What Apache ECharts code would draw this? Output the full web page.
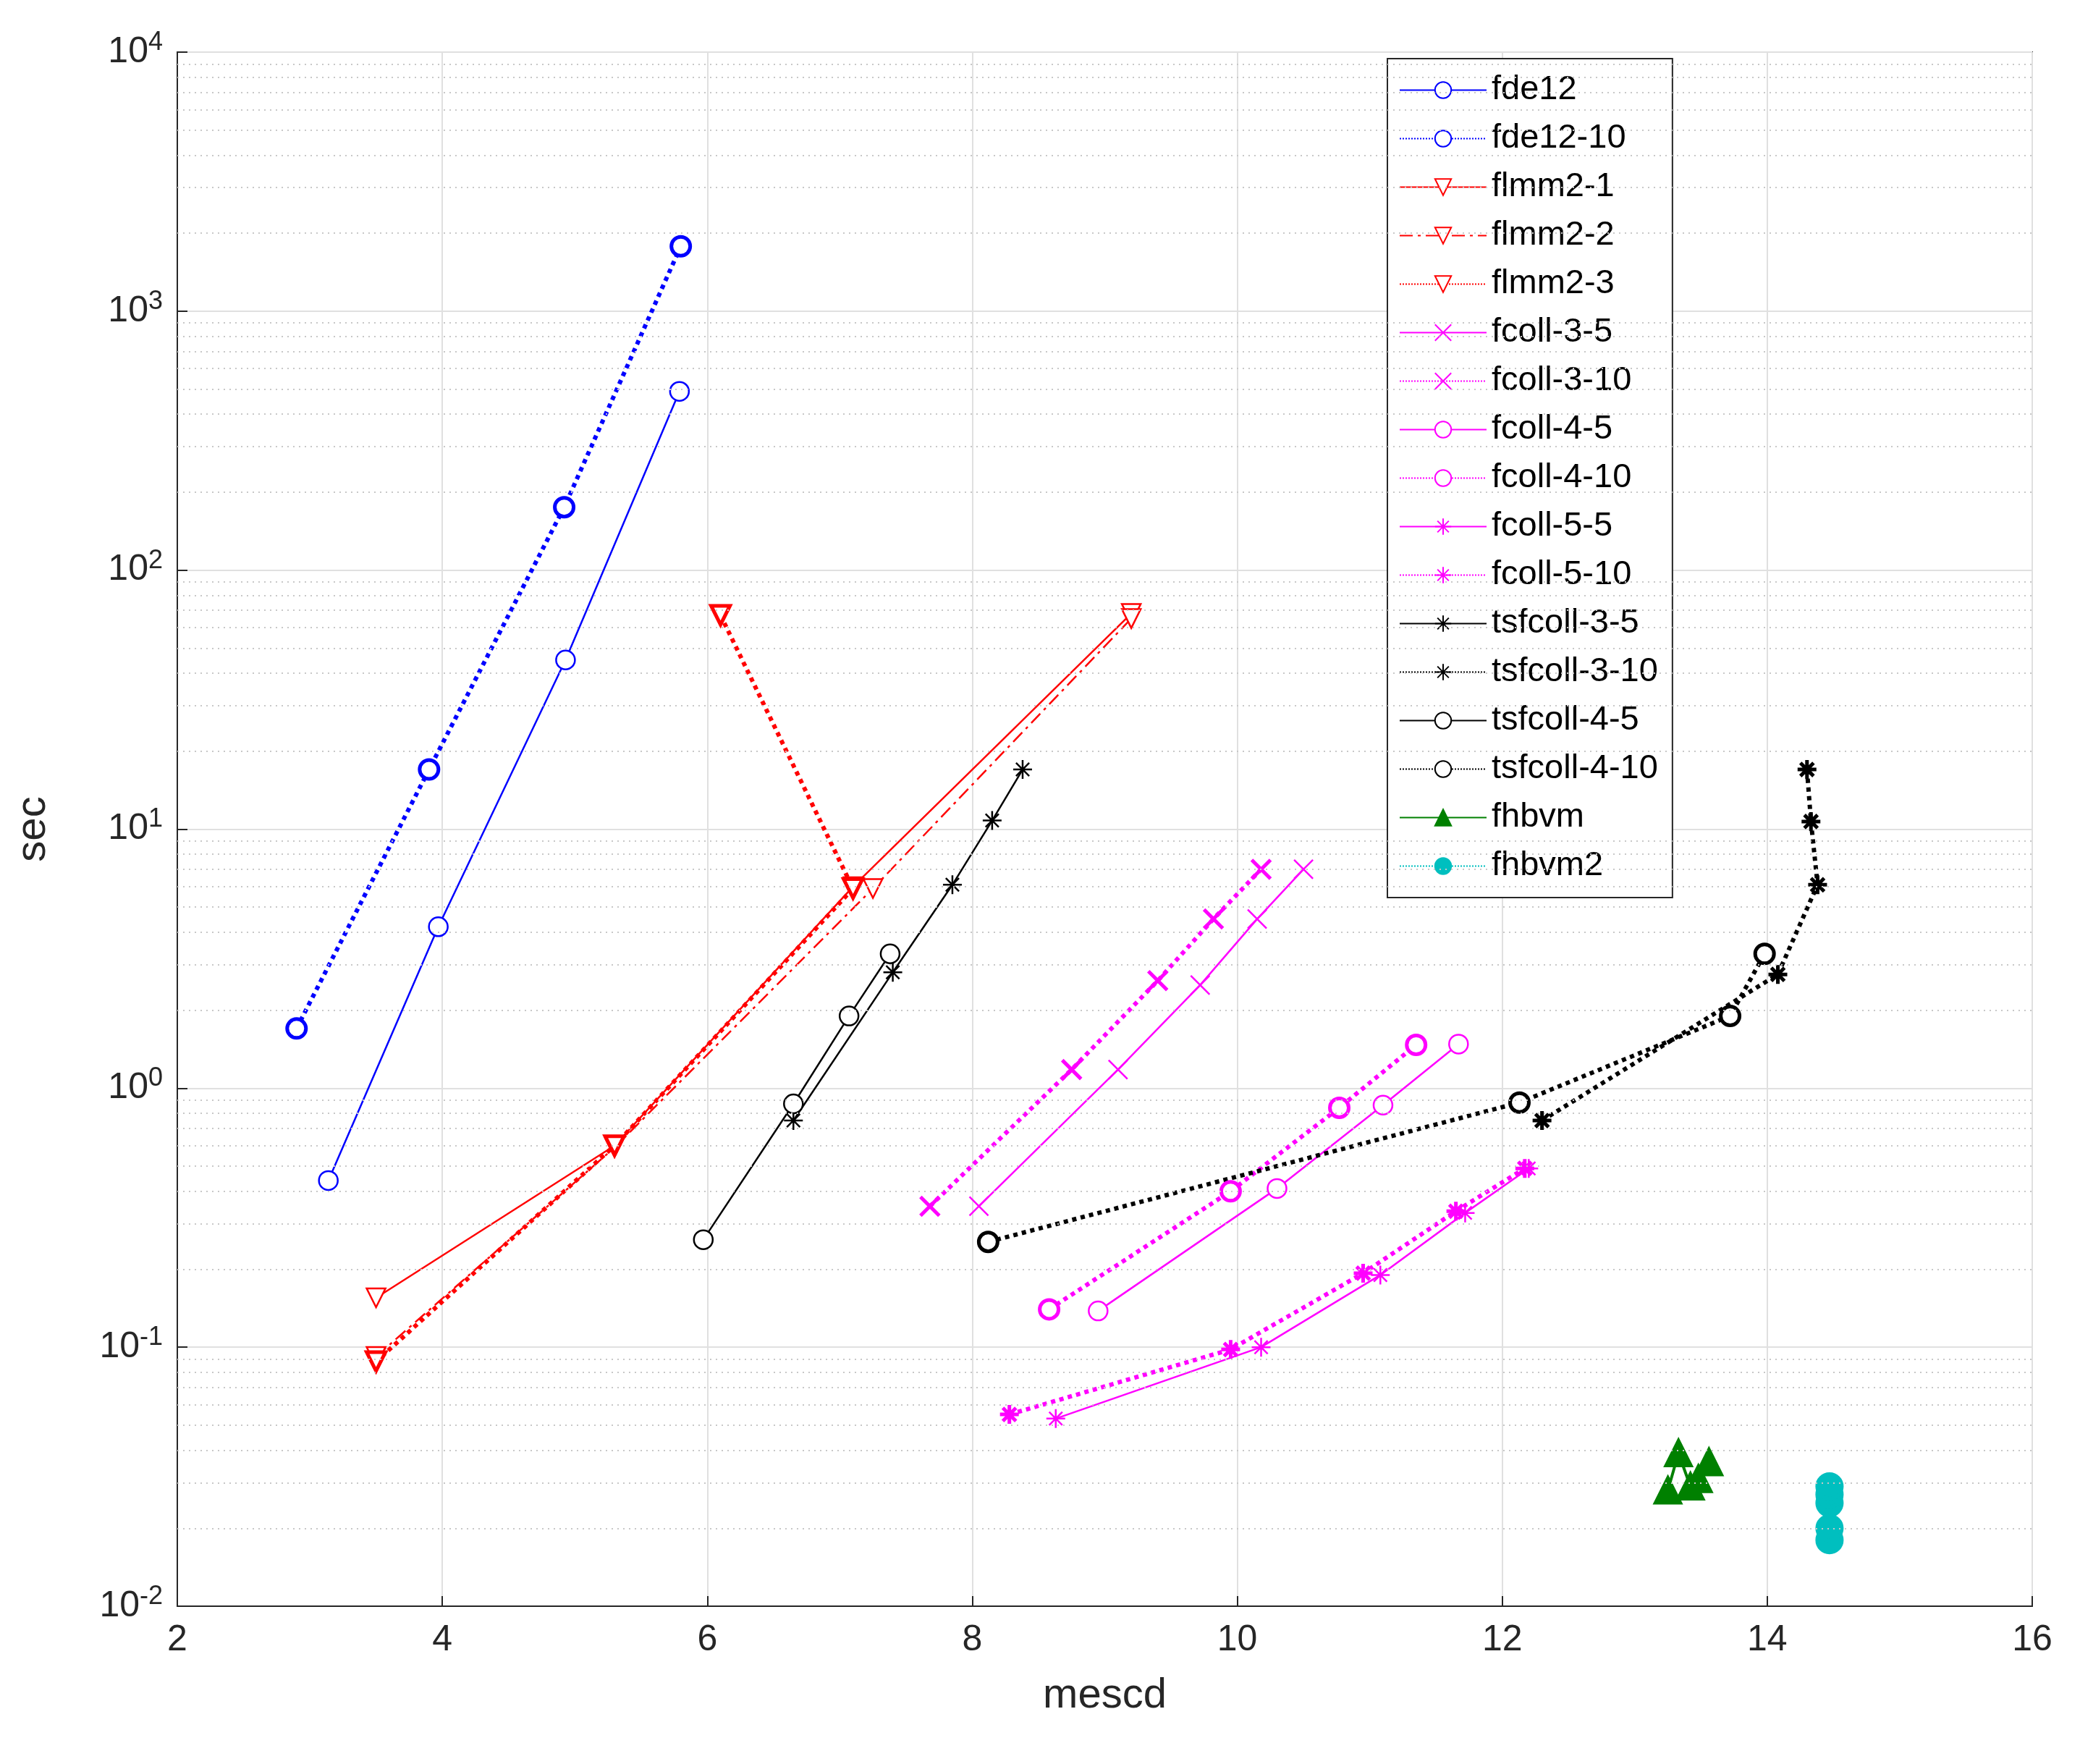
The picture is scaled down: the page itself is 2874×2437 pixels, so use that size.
<!DOCTYPE html>
<html>
<head>
<meta charset="utf-8">
<script src="https://cdn.jsdelivr.net/npm/echarts@6/dist/echarts.min.js"></script>
<style>html,body{margin:0;background:#fff}#main{width:2874px;height:2437px}</style>
</head>
<body>
<div id="main"></div>
<script>
// series data: [mescd, sec]
var fde12 = [[3.14, 0.44], [3.97, 4.2], [4.93, 45], [5.79, 490]];
var fde12_10 = [[2.9, 1.7], [3.9, 17], [4.92, 175], [5.8, 1780]];
var flmm2_1 = [[3.5, 0.155], [5.3, 0.6], [7.1, 6.0], [9.2, 68]];
var flmm2_2 = [[3.5, 0.092], [5.3, 0.59], [7.25, 5.9], [9.2, 65]];
var flmm2_3 = [[6.1, 67], [7.1, 5.9], [5.3, 0.6], [3.5, 0.088]];
var fcoll_3_5 = [[8.05, 0.35], [9.1, 1.18], [9.72, 2.5], [10.15, 4.5], [10.5, 7.0]];
var fcoll_3_10 = [[7.68, 0.35], [8.75, 1.18], [9.4, 2.6], [9.82, 4.5], [10.18, 7.0]];
var fcoll_4_5 = [[8.95, 0.138], [10.3, 0.41], [11.1, 0.86], [11.67, 1.48]];
var fcoll_4_10 = [[8.58, 0.14], [9.95, 0.4], [10.77, 0.84], [11.35, 1.47]];
var fcoll_5_5 = [[8.63, 0.053], [10.18, 0.1], [11.08, 0.19], [11.72, 0.33], [12.2, 0.49]];
var fcoll_5_10 = [[8.28, 0.055], [9.95, 0.098], [10.95, 0.193], [11.65, 0.335], [12.17, 0.49]];
var tsfcoll_3_5 = [[6.65, 0.75], [7.4, 2.8], [7.85, 6.1], [8.15, 10.8], [8.38, 17]];
var tsfcoll_3_10 = [[12.3, 0.75], [14.08, 2.75], [14.38, 6.1], [14.33, 10.7], [14.3, 17]];
var tsfcoll_4_5 = [[5.97, 0.26], [6.65, 0.87], [7.07, 1.9], [7.38, 3.3]];
var tsfcoll_4_10 = [[8.12, 0.255], [12.13, 0.88], [13.72, 1.9], [13.98, 3.3]];
var fhbvm = [[13.25, 0.028], [13.33, 0.039], [13.42, 0.029], [13.48, 0.031], [13.56, 0.036]];
var fhbvm2 = [[14.47, 0.018], [14.47, 0.02], [14.47, 0.025], [14.47, 0.027], [14.47, 0.029]];

var X_MARK = 'path://M0,0L10,10M10,0L0,10';
var STAR_MARK = 'path://M5,0L5,10M0,5L10,5M1.5,1.5L8.5,8.5M8.5,1.5L1.5,8.5';
var TRI_DOWN = 'path://M0,0L10,0L5,9Z';

function mk(name, data, color, lineType, width, symbol, filled, size) {
    return {
        name: name, type: 'line', data: data,
        symbol: symbol, symbolSize: size || 26,
        lineStyle: {color: color, width: width, type: lineType},
        itemStyle: {color: filled ? color : '#fff', borderColor: color, borderWidth: width < 3 ? 2.5 : 5},
        emphasis: {disabled: true},
        z: 3
    };
}
var DOT = 'dotted';
var series = [
    mk('fde12', fde12, '#0000ff', 'solid', 2.5, 'circle'),
    mk('fde12-10', fde12_10, '#0000ff', DOT, 6, 'circle'),
    mk('flmm2-1', flmm2_1, '#ff0000', 'solid', 2.5, TRI_DOWN),
    mk('flmm2-2', flmm2_2, '#ff0000', [18, 7, 4, 7], 2.5, TRI_DOWN),
    mk('flmm2-3', flmm2_3, '#ff0000', DOT, 6, TRI_DOWN),
    mk('fcoll-3-5', fcoll_3_5, '#ff00ff', 'solid', 2.5, X_MARK),
    mk('fcoll-3-10', fcoll_3_10, '#ff00ff', DOT, 6, X_MARK),
    mk('fcoll-4-5', fcoll_4_5, '#ff00ff', 'solid', 2.5, 'circle'),
    mk('fcoll-4-10', fcoll_4_10, '#ff00ff', DOT, 6, 'circle'),
    mk('fcoll-5-5', fcoll_5_5, '#ff00ff', 'solid', 2.5, STAR_MARK),
    mk('fcoll-5-10', fcoll_5_10, '#ff00ff', DOT, 6, STAR_MARK),
    mk('tsfcoll-3-5', tsfcoll_3_5, '#000000', 'solid', 2.5, STAR_MARK),
    mk('tsfcoll-3-10', tsfcoll_3_10, '#000000', DOT, 6, STAR_MARK),
    mk('tsfcoll-4-5', tsfcoll_4_5, '#000000', 'solid', 2.5, 'circle'),
    mk('tsfcoll-4-10', tsfcoll_4_10, '#000000', DOT, 6, 'circle'),
    mk('fhbvm', fhbvm, '#008000', 'solid', 4, 'triangle', true, 34),
    mk('fhbvm2', fhbvm2, '#00bfbf', DOT, 5, 'circle', true, 34)
];

// minor log grid lines at 2..9 of each decade
var minorLines = [];
for (var e = -2; e < 4; e++) {
    for (var m = 2; m <= 9; m++) minorLines.push({yAxis: m * Math.pow(10, e)});
}
series.push({
    type: 'line', data: [], silent: true,
    markLine: {silent: true, symbol: 'none', label: {show: false},
        lineStyle: {color: '#c8c8c8', type: [2, 6], width: 2}, data: minorLines}
});

var chart = echarts.init(document.getElementById('main'));
var axisFont = {fontFamily: 'Liberation Sans', fontSize: 50, color: '#262626'};
chart.setOption({
    animation: false,
    grid: {left: 245, right: 66, top: 72, bottom: 218, show: true, borderColor: '#262626', borderWidth: 2},
    legend: {
        orient: 'vertical', left: 1917, top: 81,
        itemWidth: 120, itemHeight: 28, itemGap: 12,
        padding: [16, 20, 16, 16],
        backgroundColor: '#fff', borderColor: '#262626', borderWidth: 2,
        textStyle: {fontFamily: 'Liberation Sans', fontSize: 47, lineHeight: 55, color: '#000', padding: [0, 0, 0, 2]},
        data: series.slice(0, 17).map(function (s) { return s.name; })
    },
    xAxis: {
        type: 'value', min: 2, max: 16, interval: 2,
        name: 'mescd', nameLocation: 'middle', nameGap: 95,
        nameTextStyle: {fontFamily: 'Liberation Sans', fontSize: 58, color: '#262626'},
        axisLine: {lineStyle: {color: '#262626', width: 2}},
        axisTick: {inside: true, length: 14, lineStyle: {color: '#262626', width: 2}},
        axisLabel: Object.assign({margin: 22}, axisFont),
        splitLine: {lineStyle: {color: '#e0e0e0', width: 2}}
    },
    yAxis: {
        type: 'log', logBase: 10, min: 0.01, max: 10000,
        name: 'sec', nameLocation: 'middle', nameGap: 170, nameRotate: 90,
        nameTextStyle: {fontFamily: 'Liberation Sans', fontSize: 58, color: '#262626'},
        axisLine: {lineStyle: {color: '#262626', width: 2}},
        axisTick: {inside: true, length: 14, lineStyle: {color: '#262626', width: 2}},
        axisLabel: Object.assign({
            margin: 20,
            formatter: function (v) { return '10{sup|' + Math.round(Math.log10(v)) + '}'; },
            rich: {sup: {fontFamily: 'Liberation Sans', fontSize: 36, color: '#262626', verticalAlign: 'top', padding: [0, 0, 26, 0]}}
        }, axisFont),
        splitLine: {lineStyle: {color: '#e0e0e0', width: 2}}
    },
    series: series
});
</script>
</body>
</html>
